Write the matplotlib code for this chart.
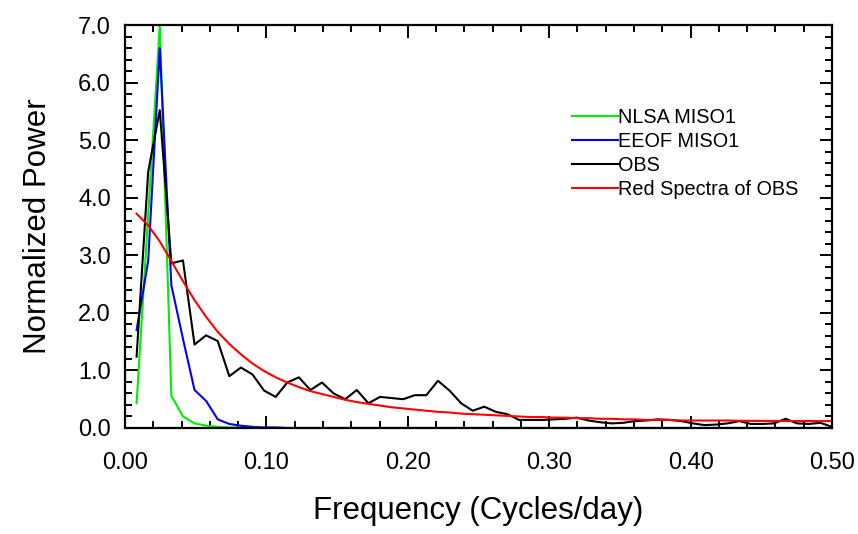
import numpy as np
import matplotlib
matplotlib.use("Agg")
import matplotlib.pyplot as plt
from matplotlib.ticker import MultipleLocator, FormatStrFormatter

plt.rcParams['font.family'] = ['Liberation Sans', 'DejaVu Sans']

# frequencies k/122, k = 1..61
freq = np.arange(1, 62) / 122.0

nlsa = [0.43, 3.70, 7.00, 0.56, 0.20, 0.08, 0.04, 0.02, 0.01, 0.01,
        0.00, 0.00, 0.00, 0.00, 0.00, 0.00, 0.00, 0.00, 0.00, 0.00,
        0.00, 0.00, 0.00, 0.00, 0.00, 0.00, 0.00, 0.00, 0.00, 0.00,
        0.00, 0.00, 0.00, 0.00, 0.00, 0.00, 0.00, 0.00, 0.00, 0.00,
        0.00, 0.00, 0.00, 0.00, 0.00, 0.00, 0.00, 0.00, 0.00, 0.00,
        0.00, 0.00, 0.00, 0.00, 0.00, 0.00, 0.00, 0.00, 0.00, 0.00,
        0.00]

eeof = [1.70, 2.90, 6.60, 2.48, 1.55, 0.66, 0.47, 0.15, 0.07, 0.04,
        0.02, 0.01, 0.01, 0.00, 0.00, 0.00, 0.00, 0.00, 0.00, 0.00,
        0.00, 0.00, 0.00, 0.00, 0.00, 0.00, 0.00, 0.00, 0.00, 0.00,
        0.00, 0.00, 0.00, 0.00, 0.00, 0.00, 0.00, 0.00, 0.00, 0.00,
        0.00, 0.00, 0.00, 0.00, 0.00, 0.00, 0.00, 0.00, 0.00, 0.00,
        0.00, 0.00, 0.00, 0.00, 0.00, 0.00, 0.00, 0.00, 0.00, 0.00,
        0.00]

obs = [1.24, 4.45, 5.52, 2.86, 2.91, 1.45, 1.61, 1.51, 0.90, 1.05,
       0.93, 0.65, 0.54, 0.79, 0.88, 0.66, 0.79, 0.60, 0.50, 0.66,
       0.43, 0.54, 0.52, 0.50, 0.57, 0.57, 0.82, 0.65, 0.43, 0.30,
       0.37, 0.28, 0.24, 0.14, 0.14, 0.14, 0.15, 0.16, 0.18, 0.13,
       0.10, 0.08, 0.09, 0.12, 0.13, 0.15, 0.14, 0.12, 0.08, 0.05,
       0.06, 0.08, 0.12, 0.07, 0.07, 0.08, 0.16, 0.08, 0.07, 0.09,
       0.02]

red_obs = [3.72, 3.52, 3.24, 2.90, 2.55, 2.22, 1.93, 1.67, 1.46, 1.28,
           1.12, 0.99, 0.88, 0.79, 0.71, 0.64, 0.59, 0.54, 0.49, 0.45,
           0.42, 0.39, 0.36, 0.34, 0.32, 0.30, 0.28, 0.27, 0.25, 0.24,
           0.23, 0.22, 0.21, 0.20, 0.19, 0.19, 0.18, 0.18, 0.17, 0.17,
           0.16, 0.16, 0.15, 0.15, 0.14, 0.14, 0.14, 0.13, 0.13, 0.13,
           0.13, 0.13, 0.125, 0.124, 0.123, 0.122, 0.121, 0.121, 0.120, 0.120,
           0.120]

fig = plt.figure(figsize=(8.58, 5.34), dpi=100)
ax = fig.add_axes([125/858, 1-428/534, (832-125)/858, (428-25)/534])

lw = 1.5
ax.plot(freq, nlsa, color='#00ee00', lw=lw, label='NLSA MISO1')
ax.plot(freq, eeof, color='#0000ff', lw=lw, label='EEOF MISO1')
ax.plot(freq, obs, color='black', lw=lw, label='OBS')
ax.plot(freq, red_obs, color='#ff0000', lw=lw, label='Red Spectra of OBS')

ax.set_xlim(0, 0.5)
ax.set_ylim(0, 7)
ax.xaxis.set_major_locator(MultipleLocator(0.1))
ax.xaxis.set_minor_locator(MultipleLocator(0.02))
ax.yaxis.set_major_locator(MultipleLocator(1.0))
ax.yaxis.set_minor_locator(MultipleLocator(0.2))
ax.xaxis.set_major_formatter(FormatStrFormatter('%.2f'))
ax.yaxis.set_major_formatter(FormatStrFormatter('%.1f'))
ax.tick_params(which='both', direction='in', top=True, right=True, width=1.4)
ax.tick_params(which='major', length=9, labelsize=17)
ax.tick_params(which='minor', length=5)
ax.tick_params(axis='x', which='major', pad=17)
ax.tick_params(axis='y', which='major', pad=10)
for s in ax.spines.values():
    s.set_linewidth(1.6)

ax.set_xlabel('Frequency (Cycles/day)', fontsize=22.5, labelpad=16)
ax.set_ylabel('Normalized Power', fontsize=22.5, labelpad=18)

ax.legend(loc='upper left', bbox_to_anchor=(0.632, 0.793), frameon=False,
          fontsize=14.3, handlelength=2.3, handletextpad=0.0,
          labelspacing=0.25, borderaxespad=0, borderpad=0)

fig.savefig('out.png', dpi=100)
